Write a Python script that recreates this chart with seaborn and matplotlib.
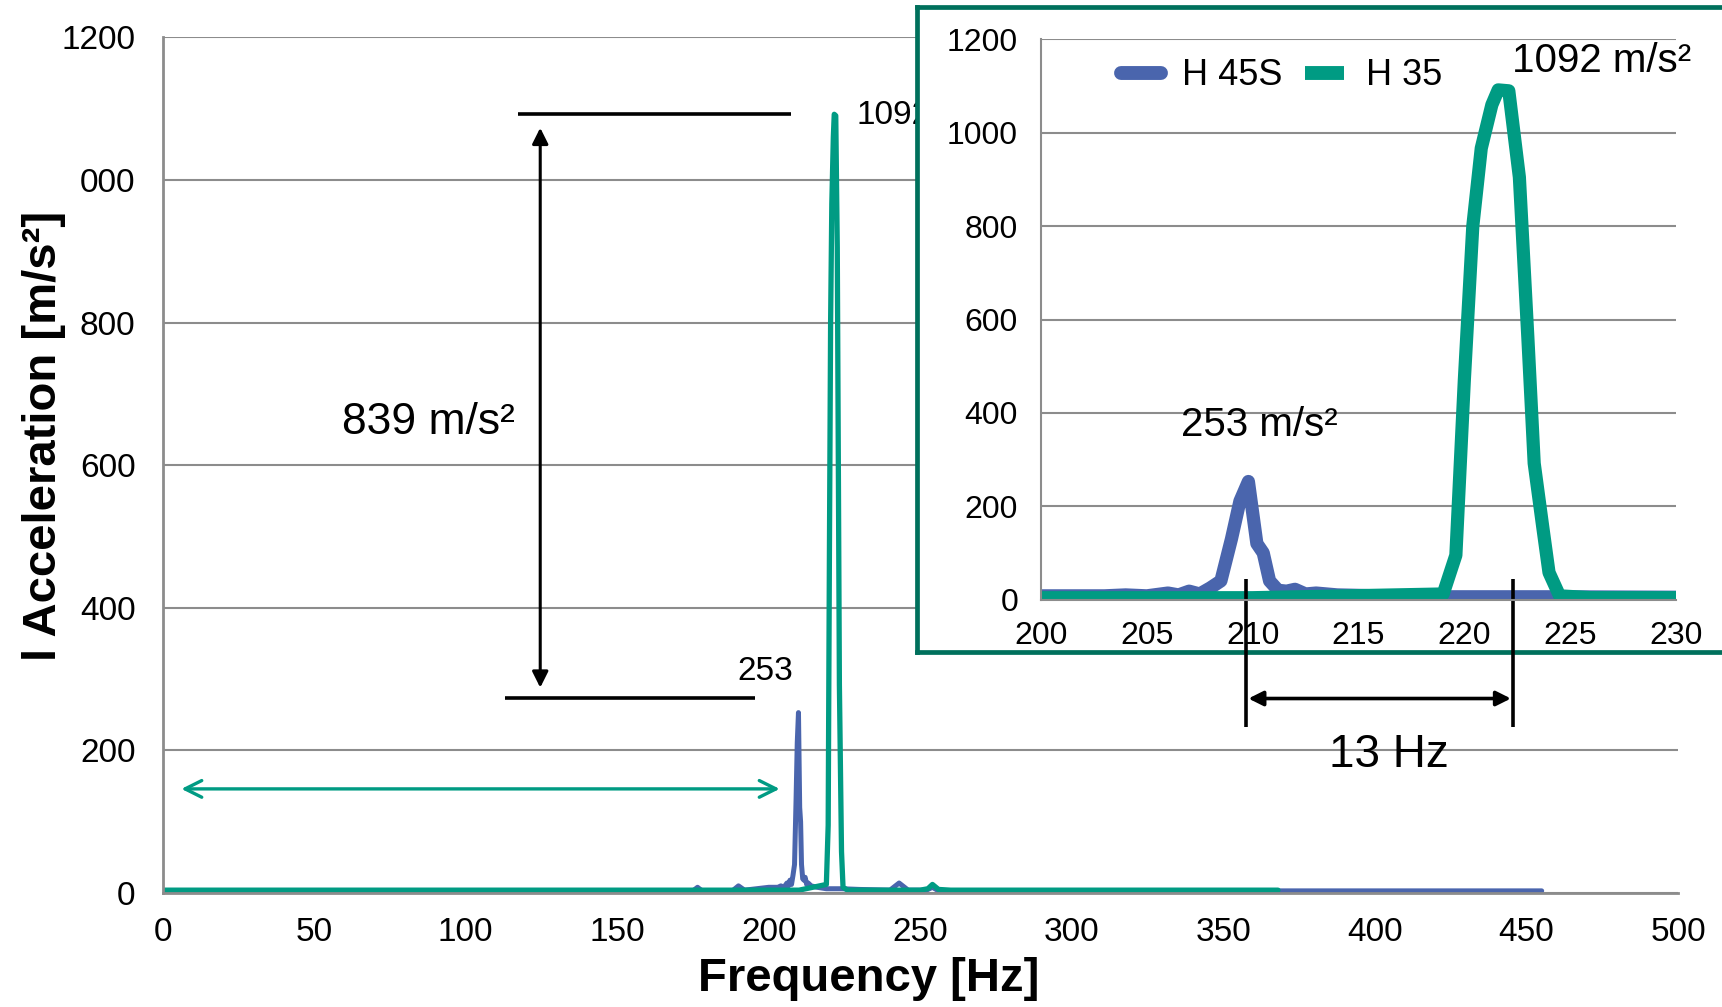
import numpy as np
import pandas as pd
import matplotlib
matplotlib.use("Agg")
import matplotlib.pyplot as plt
from matplotlib.lines import Line2D
import seaborn as sns

# spectrum values
freq_h45s = [0, 170, 175, 176.5, 178, 188, 190, 192, 200, 203, 204, 205, 206, 206.5, 207, 207.5, 208,
             208.5, 209, 209.4, 209.8, 210.2, 210.5, 210.8, 211.2, 211.6, 212, 212.5, 213, 214, 216, 219,
             224, 230, 240, 243, 246, 252, 254, 256, 300, 455]
acc_h45s = [3, 3, 3, 8, 3, 3, 10, 4, 8, 8, 10, 8, 14, 10, 18, 12, 25,
            40, 130, 211, 253, 120, 100, 40, 20, 18, 22, 12, 14, 10, 8, 6,
            6, 5, 4, 14, 4, 4, 8, 3, 3, 3]

freq_h35 = [0, 200, 210, 219, 219.6, 220, 220.4, 220.8, 221.3, 221.6, 222.1, 222.6, 223, 223.3, 223.7,
            224, 224.5, 226, 250, 252.5, 254, 256, 260, 368]
acc_h35 = [4, 4, 4, 12, 95, 470, 800, 967, 1060, 1092, 1090, 905, 562, 292, 157,
           58, 8, 4, 4, 6, 12, 5, 4, 4]

series_names = ["H 45S", "H 35"]
main_xticks = [0, 50, 100, 150, 200, 250, 300, 350, 400, 450, 500]
main_yticks = [0, 200, 400, 600, 800, 1000, 1200]
main_ylabels = ["0", "200", "400", "600", "800", "000", "1200"]
inset_xticks = [200, 205, 210, 215, 220, 225, 230]
inset_yticks = [0, 200, 400, 600, 800, 1000, 1200]

df45 = pd.DataFrame({"f": freq_h45s, "a": acc_h45s})
df35 = pd.DataFrame({"f": freq_h35, "a": acc_h35})

BLUE = "#4A65AD"
TEAL = "#009B83"
BOX = "#00705C"
GRID = "#8C8C8C"

sns.set_theme(style="white")
plt.rcParams["font.family"] = ["Liberation Sans", "DejaVu Sans"]
plt.rcParams["text.color"] = "black"
plt.rcParams["axes.labelcolor"] = "black"
plt.rcParams["xtick.labelcolor"] = "black"
plt.rcParams["ytick.labelcolor"] = "black"

fig = plt.figure(figsize=(17.22, 10.07), dpi=100)
ax = fig.add_axes([0.0944, 0.1132, 0.8801, 0.8498])

sns.lineplot(data=df45, x="f", y="a", ax=ax, color=BLUE, linewidth=3.6, estimator=None)
sns.lineplot(data=df35, x="f", y="a", ax=ax, color=TEAL, linewidth=3.8, estimator=None)

ax.set_xlim(0, 500)
ax.set_ylim(0, 1200)
ax.set_xticks(main_xticks)
ax.set_yticks(main_yticks)
ax.set_yticklabels(main_ylabels)
ax.yaxis.grid(True, color=GRID, lw=1.5)
ax.set_axisbelow(True)
for s in ["top", "right"]:
    ax.spines[s].set_visible(False)
for s in ["left", "bottom"]:
    ax.spines[s].set_color(GRID)
    ax.spines[s].set_linewidth(2)
ax.tick_params(axis="both", direction="out", length=7.5, width=1.5, color=GRID, labelsize=24)
ax.tick_params(axis="y", pad=12)
ax.tick_params(axis="x", pad=10)
ax.set_xlabel("Frequency [Hz]", fontsize=34, fontweight="bold")
ax.set_ylabel("l Acceleration [m/s²]", fontsize=34, fontweight="bold")
ax.xaxis.label.set_va("center")
ax.yaxis.label.set_va("center")
ax.xaxis.set_label_coords(0.466, -0.1)
ax.yaxis.set_label_coords(-0.078, 0.534)

# annotations on the main chart
ax.plot([117.4, 207.2], [1092, 1092], color="black", lw=2.6, solid_capstyle="butt")
ax.plot([113, 195.3], [274, 274], color="black", lw=2.6, solid_capstyle="butt")
ax.annotate("", xy=(124.6, 1073), xytext=(124.6, 288),
            arrowprops=dict(arrowstyle="<|-|>", color="black", lw=2.2, mutation_scale=24,
                            shrinkA=0, shrinkB=0))
ax.text(87.7, 660, "839 m/s²", fontsize=32, ha="center", va="center")
ax.text(199, 310, "253", fontsize=24, ha="center", va="center")
ax.text(229, 1090, "1092", fontsize=24, ha="left", va="center")
ax.annotate("", xy=(203.6, 146), xytext=(6.2, 146),
            arrowprops=dict(arrowstyle="<->", color=TEAL, lw=2.4, mutation_scale=30,
                            shrinkA=0, shrinkB=0))

# framed white box behind the zoomed view
box = fig.add_axes([0.5325, 0.3525, 0.48, 0.6405])
box.set_facecolor("white")
box.set_xticks([])
box.set_yticks([])
for s in box.spines.values():
    s.set_color(BOX)
    s.set_linewidth(3.4)

inset = fig.add_axes([0.6045, 0.4046, 0.3688, 0.5562])
inset.set_facecolor("none")
sns.lineplot(data=df45, x="f", y="a", ax=inset, color=BLUE, linewidth=9.5, estimator=None)
sns.lineplot(data=df35, x="f", y="a", ax=inset, color=TEAL, linewidth=9.5, estimator=None)
inset.lines[0].set_solid_capstyle("round")
inset.lines[0].set_solid_joinstyle("round")
inset.set_xlim(200, 230)
inset.set_ylim(0, 1200)
inset.set_xticks(inset_xticks)
inset.set_yticks(inset_yticks)
inset.yaxis.grid(True, color=GRID, lw=1.5)
inset.set_axisbelow(True)
for s in ["top", "right"]:
    inset.spines[s].set_visible(False)
for s in ["left", "bottom"]:
    inset.spines[s].set_color(GRID)
    inset.spines[s].set_linewidth(1.5)
inset.tick_params(axis="both", direction="out", length=7.5, width=1.5, color=GRID, labelsize=23)
inset.tick_params(axis="y", pad=9)
inset.tick_params(axis="x", pad=8)
inset.set_xlabel("")
inset.set_ylabel("")

handles = [Line2D([], [], color=BLUE, lw=10, solid_capstyle="round"),
           Line2D([], [], color=TEAL, lw=10, solid_capstyle="butt")]
inset.legend(handles, series_names, loc="center left", bbox_to_anchor=(0.075, 0.935), ncol=2,
             frameon=False, fontsize=26, handlelength=1.1, handletextpad=0.6, columnspacing=0.6)

inset.text(210.3, 374, "253 m/s²", fontsize=29, ha="center", va="center")
inset.text(226.5, 1154, "1092 m/s²", fontsize=29, ha="center", va="center")

# frequency gap marker crossing the box edge
for xv in [209.7, 222.3]:
    inset.plot([xv, xv], [45, -273], color="black", lw=2.6, clip_on=False, solid_capstyle="butt")
inset.annotate("", xy=(209.8, -212), xytext=(222.2, -212), annotation_clip=False,
               arrowprops=dict(arrowstyle="<|-|>", color="black", lw=2.6, mutation_scale=22,
                               shrinkA=0, shrinkB=0))
inset.text(216.45, -332, "13 Hz", fontsize=33, ha="center", va="center", clip_on=False)

fig.savefig("out.png", dpi=100)
